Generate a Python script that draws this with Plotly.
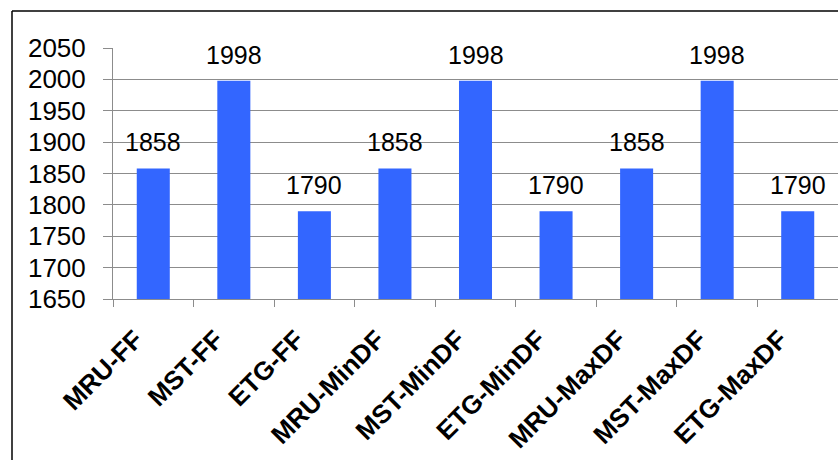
import plotly.graph_objects as go

categories = ["MRU-FF", "MST-FF", "ETG-FF", "MRU-MinDF", "MST-MinDF",
              "ETG-MinDF", "MRU-MaxDF", "MST-MaxDF", "ETG-MaxDF"]
values = [1858, 1998, 1790, 1858, 1998, 1790, 1858, 1998, 1790]
y_ticks = [1650, 1700, 1750, 1800, 1850, 1900, 1950, 2000, 2050]

W, H = 838, 460
ML, MR, MT, MB = 113, 0, 48, 161
plot_w = W - ML - MR
plot_h = H - MT - MB

BAR = "#3366FF"
GRID = "#8c8c8c"
FONT = "Liberation Sans, Arial, sans-serif"

fig = go.Figure()
fig.add_trace(go.Bar(
    x=categories, y=values,
    marker=dict(color=BAR, line=dict(width=0)),
    width=0.41,
    hoverinfo="x+y",
))

# value labels above each bar
for c, v in zip(categories, values):
    fig.add_annotation(x=c, y=v, text=str(v), showarrow=False,
                       yanchor="bottom", yshift=10,
                       font=dict(family=FONT, size=25, color="#000000"))

# frame lines along the top and left edges
px = lambda p: (p - ML) / plot_w
py = lambda p: (H - MB - p) / plot_h
fig.add_shape(type="line", xref="paper", yref="paper",
              x0=px(12), x1=px(W + 2), y0=py(11), y1=py(11),
              line=dict(color="#000000", width=1.5))
fig.add_shape(type="line", xref="paper", yref="paper",
              x0=px(12), x1=px(12), y0=py(11), y1=py(H + 2),
              line=dict(color="#000000", width=1.5))

fig.update_layout(
    width=W, height=H,
    margin=dict(l=ML, r=MR, t=MT, b=MB),
    paper_bgcolor="#ffffff", plot_bgcolor="#ffffff",
    showlegend=False,
    bargap=0.59,
    font=dict(family=FONT, color="#000000"),
)
fig.update_xaxes(
    tickangle=-45,
    tickfont=dict(family=FONT, size=26, color="#000000", weight="bold"),
    showline=True, linecolor=GRID, linewidth=1,
    ticks="outside", tickson="boundaries", ticklen=7, tickcolor=GRID,
    ticklabelshift=-18, ticklabelstandoff=14,
    showgrid=False,
    automargin=False,
)
fig.update_yaxes(
    range=[1650, 2050],
    tickvals=y_ticks,
    tickfont=dict(family=FONT, size=26, color="#000000"),
    showline=True, linecolor=GRID, linewidth=1,
    ticks="outside", ticklen=9, tickcolor=GRID,
    ticklabelstandoff=12,
    showgrid=True, gridcolor=GRID, gridwidth=1,
    zeroline=False,
    automargin=False,
)

fig.write_html("out.html")
